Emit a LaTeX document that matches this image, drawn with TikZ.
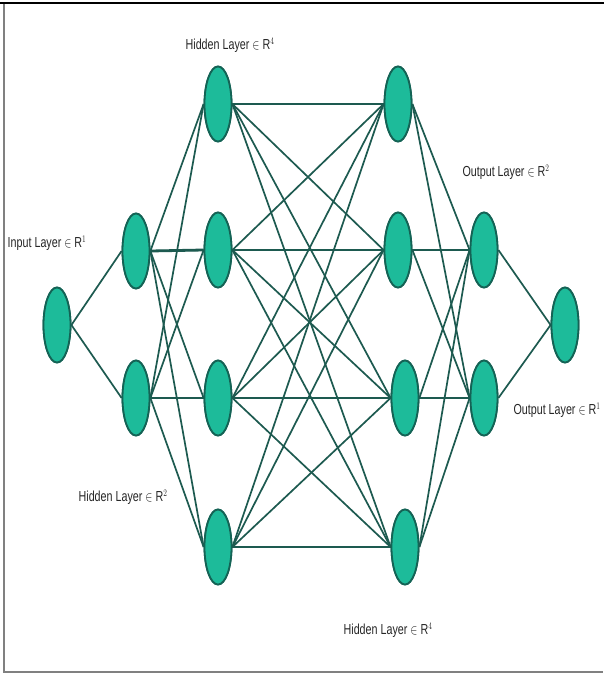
\documentclass[tikz,border=0pt]{standalone}
\usepackage{fontspec}
\usepackage{graphicx}
\setmainfont{Liberation Sans}
\usetikzlibrary{shapes.geometric}
\definecolor{nodefill}{HTML}{1DBB9A}
\definecolor{nodedraw}{HTML}{146355}
\definecolor{edgecol}{HTML}{1D5A50}
\newcommand{\lbltxt}[1]{\scalebox{0.74}[1]{#1}}
\begin{document}
\begin{tikzpicture}[x=1pt,y=-1pt,
  neuron/.style={ellipse,draw=nodedraw,line width=1.8pt,fill=nodefill,minimum width=27pt,minimum height=75pt,inner sep=0pt},
  edge/.style={draw=edgecol,line width=1.7pt},
  hedge/.style={draw=edgecol,line width=2.8pt},
  lbl/.style={font=\fontsize{14.5}{15}\selectfont,text=black!85,inner sep=0pt}]
\useasboundingbox (0,0) rectangle (604,674);
\fill[white] (0,0) rectangle (604,674);
\draw[gray,line width=1.5pt] (4,3) -- (4,672) -- (603,672);
\draw[black,line width=2pt] (0,3) -- (604,3);
% nodes
\node[neuron] (i1) at (57,325) {};
\node[neuron] (a1) at (136,251) {};
\node[neuron] (a2) at (136,398) {};
\node[neuron] (b1) at (218,104) {};
\node[neuron] (b2) at (218,250) {};
\node[neuron] (b3) at (218,398) {};
\node[neuron] (b4) at (218,547) {};
\node[neuron] (c1) at (398,104) {};
\node[neuron] (c2) at (398,250) {};
\node[neuron] (c3) at (405,398) {};
\node[neuron] (c4) at (405,547) {};
\node[neuron] (o1) at (484,250) {};
\node[neuron] (o2) at (484,398) {};
\node[neuron] (f1) at (565,325) {};
% edges
\draw[edge] (i1.east) -- (a1.west);
\draw[edge] (i1.east) -- (a2.west);
\foreach \s in {a1,a2}{\foreach \t in {b1,b2,b3,b4}{\draw[edge] (\s.east) -- (\t.west);}}
\draw[hedge] (a1.east) -- (b2.west);
\draw[hedge] (a2.east) -- (b3.west);
\foreach \s in {b1,b2,b3,b4}{\foreach \t in {c1,c2,c3,c4}{\draw[edge] (\s.east) -- (\t.west);}}
\draw[hedge] (b1.east) -- (c1.west);
\draw[hedge] (b2.east) -- (c2.west);
\draw[hedge] (b3.east) -- (c3.west);
\foreach \s in {c1,c2,c3,c4}{\foreach \t in {o1,o2}{\draw[edge] (\s.east) -- (\t.west);}}
\draw[hedge] (c2.east) -- (o1.west);
\draw[hedge] (c3.east) -- (o2.west);
\draw[edge] (o1.east) -- (f1.west);
\draw[edge] (o2.east) -- (f1.west);
% redraw nodes on top
\foreach \n/\x/\y in {i1/57/325,a1/136/251,a2/136/398,b1/218/104,b2/218/250,b3/218/398,b4/218/547,c1/398/104,c2/398/250,c3/405/398,c4/405/547,o1/484/250,o2/484/398,f1/565/325}{
  \node[neuron] at (\x,\y) {};}
% labels
\node[lbl] (l1) at (230,45) {\lbltxt{Hidden Layer $\in$ R$^{4}$}};
\node[lbl] (l2) at (47,243) {\lbltxt{Input Layer $\in$ R$^{1}$}};
\node[lbl] (l3) at (123,497) {\lbltxt{Hidden Layer $\in$ R$^{2}$}};
\node[lbl] (l4) at (388,630) {\lbltxt{Hidden Layer $\in$ R$^{4}$}};
\node[lbl] (l5) at (506,172) {\lbltxt{Output Layer $\in$ R$^{2}$}};
\node[lbl] (l6) at (557,410) {\lbltxt{Output Layer $\in$ R$^{1}$}};
\end{tikzpicture}
\end{document}
